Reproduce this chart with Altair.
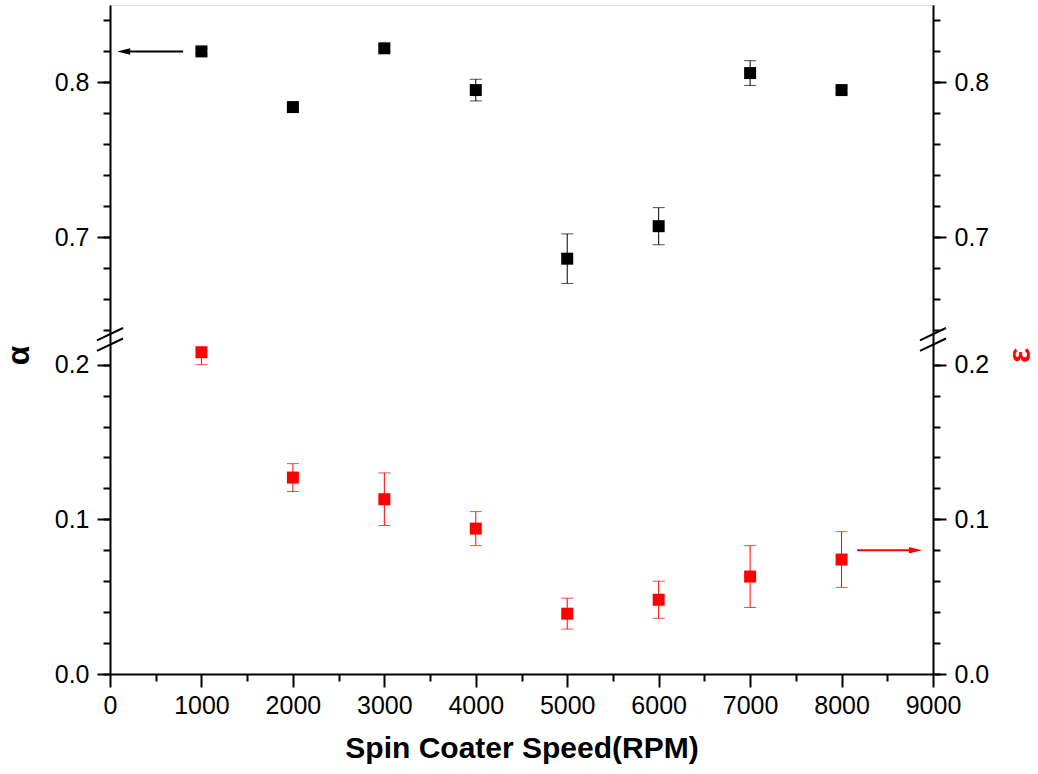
import altair as alt
import pandas as pd

# ---------------- data ----------------
speed = [1000, 2000, 3000, 4000, 5000, 6000, 7000, 8000]
alpha = [0.820, 0.784, 0.822, 0.795, 0.686, 0.707, 0.806, 0.795]
alpha_err = [0.002, 0.002, 0.002, 0.007, 0.016, 0.012, 0.008, 0.002]
eps = [0.208, 0.127, 0.113, 0.094, 0.039, 0.048, 0.063, 0.074]
eps_err = [0.008, 0.009, 0.017, 0.011, 0.010, 0.012, 0.020, 0.018]

x_major = [0, 1000, 2000, 3000, 4000, 5000, 6000, 7000, 8000, 9000]
x_minor = [500, 1500, 2500, 3500, 4500, 5500, 6500, 7500, 8500]
y_major = [0.0, 0.1, 0.2, 0.7, 0.8]
y_minor = [0.00, 0.02, 0.04, 0.06, 0.08, 0.10, 0.12, 0.14, 0.16, 0.18, 0.20,
           0.64, 0.66, 0.68, 0.70, 0.72, 0.74, 0.76, 0.78, 0.80, 0.82, 0.84]

# arrows pointing to the axis each series belongs to
arrow_series = ["alpha", "eps"]
arrow_from = [800, 8170]
arrow_to = [200, 8750]
arrow_tip = [150, 8808]
arrow_value = [0.82, 0.08]

# broken axis: lower part 0 .. ~0.216, upper part ~0.634 .. 0.85
GAP = 0.4175          # collapsed value range
LOW_TOP = 0.212       # highest value drawn in the lower part
BREAK_AT = 0.2163     # where the break marks sit (transformed units)
Y_TOP = 0.85
BREAK_X = [0, 9000]


def tr(v):
    return v if v < 0.4 else v - GAP


# ---------------- tables ----------------
rows, caps = [], []
for s, vals, errs in (("alpha", alpha, alpha_err), ("eps", eps, eps_err)):
    for x, v, e in zip(speed, vals, errs):
        lo, hi = v - e, v + e
        hi_c = min(hi, LOW_TOP) if s == "eps" else hi
        rows.append({"x": x, "t": tr(v), "lo": tr(lo), "hi": tr(hi_c), "series": s})
        caps.append({"x": x, "t": tr(lo), "series": s})
        if hi_c == hi:
            caps.append({"x": x, "t": tr(hi), "series": s})
pts = pd.DataFrame(rows)
caps = pd.DataFrame(caps)

arrows = pd.DataFrame({
    "series": arrow_series,
    "x1": arrow_from,
    "x2": arrow_to,
    "tip": arrow_tip,
    "t": [tr(v) for v in arrow_value],
})

brk_rows = []
for bx in BREAK_X:
    for off in (-0.0034, 0.0034):
        brk_rows.append({"x1": bx - 142, "x2": bx + 142,
                         "t1": BREAK_AT + off - 0.004, "t2": BREAK_AT + off + 0.004})
brk = pd.DataFrame(brk_rows)

# ---------------- scales / axes ----------------
W, H = 823, 669
xs = alt.Scale(domain=[0, 9000], nice=False, zero=False)
ys = alt.Scale(domain=[0, tr(Y_TOP)], nice=False, zero=False)
col = alt.Color("series:N", scale=alt.Scale(domain=["alpha", "eps"], range=["black", "red"]), legend=None)

FONT = "Liberation Sans"
LBL = 25
label_expr = f"datum.value > 0.21 ? format(datum.value + {GAP}, '.1f') : format(datum.value, '.1f')"

common = dict(grid=False, domainColor="black", domainWidth=2, tickColor="black", tickWidth=2,
              labelColor="black", labelFont=FONT, labelFontSize=LBL, titleFont=FONT)

x_major_axis = alt.Axis(orient="bottom", values=x_major, format="d", tickSize=13, labelPadding=6,
                        labelFlush=False, labelOverlap=False,
                        title="Spin Coater Speed(RPM)", titleFontSize=30, titleFontWeight="bold",
                        titleColor="black", titleX=W / 2, titleY=83, titleAlign="center",
                        titleBaseline="alphabetic", **common)
x_minor_axis = alt.Axis(orient="bottom", values=x_minor, tickSize=7, labels=False, domain=False,
                        **common)

y_left_major = alt.Axis(orient="left", values=[tr(v) for v in y_major], labelExpr=label_expr,
                        tickSize=13, labelPadding=8, labelOverlap=False, labelFlush=False,
                        title="α", titleFontSize=32, titleFontWeight="bold", titleColor="black",
                        titleAngle=270, titleX=-92, titleY=350, titleAlign="center",
                        titleBaseline="middle", **common)
y_left_minor = alt.Axis(orient="left", values=[tr(v) for v in y_minor], tickSize=7, labels=False,
                        domain=False, **common)
y_right_major = alt.Axis(orient="right", values=[tr(v) for v in y_major], labelExpr=label_expr,
                         tickSize=13, labelPadding=8, labelOverlap=False, labelFlush=False,
                         title="ε", titleFontSize=32, titleFontWeight="bold", titleColor="red",
                         titleAngle=270, titleX=86, titleY=350, titleAlign="center",
                         titleBaseline="middle", **common)
y_right_minor = alt.Axis(orient="right", values=[tr(v) for v in y_minor], tickSize=7, labels=False,
                         domain=False, **common)


def X(field="x", axis=None):
    if axis is None:
        return alt.X(f"{field}:Q", scale=xs, axis=None, title=None)
    return alt.X(f"{field}:Q", scale=xs, axis=axis)


def Y(field="t", axis=None):
    if axis is None:
        return alt.Y(f"{field}:Q", scale=ys, axis=None, title=None)
    return alt.Y(f"{field}:Q", scale=ys, axis=axis)


def Xm(axis):
    return alt.X("x:Q", scale=xs, axis=axis, title=None)


def Ym(axis):
    return alt.Y("t:Q", scale=ys, axis=axis, title=None)


carrier = alt.Chart(pts).mark_point(opacity=0)
ax1 = carrier.encode(x=X(axis=x_major_axis), y=Y(axis=y_left_major))
ax2 = carrier.encode(x=Xm(x_minor_axis), y=Ym(y_left_minor))
ax3 = carrier.encode(x=X(), y=Y(axis=y_right_major))
ax4 = carrier.encode(x=X(), y=Ym(y_right_minor))

err = alt.Chart(pts).mark_rule(strokeWidth=1).encode(x=X(), y=Y("lo"), y2="hi", color=col)
cap = alt.Chart(caps).mark_tick(orient="horizontal", size=12, thickness=1).encode(x=X(), y=Y(), color=col)
sq = alt.Chart(pts).mark_square(size=144, opacity=1).encode(x=X(), y=Y(), color=col)

arr_line = alt.Chart(arrows).mark_rule(strokeWidth=2).encode(x=X("x1"), x2="x2", y=Y(), color=col)
arr_head = alt.Chart(arrows).mark_point(filled=True, size=169, opacity=1).encode(
    x=X("tip"), y=Y(), color=col,
    shape=alt.Shape("series:N", scale=alt.Scale(domain=["alpha", "eps"],
                                                 range=["M-1,0L1,-0.5L1,0.5Z", "M1,0L-1,-0.5L-1,0.5Z"]),
                    legend=None))

brk_marks = alt.Chart(brk).mark_rule(strokeWidth=2, color="black").encode(
    x=X("x1"), x2="x2", y=Y("t1"), y2="t2")

chart = alt.layer(ax1, ax2, ax3, ax4, err, cap, sq, arr_line, arr_head, brk_marks).resolve_scale(
    x="independent", y="independent"
).properties(
    width=W, height=H,
    autosize=alt.AutoSizeParams(type="none"),
    padding={"left": 110, "top": 5, "right": 105, "bottom": 100},
).configure_view(stroke="black", strokeWidth=2).configure(font=FONT, background="white")

chart.save("out.html", embed_options={"renderer": "svg", "actions": False})
